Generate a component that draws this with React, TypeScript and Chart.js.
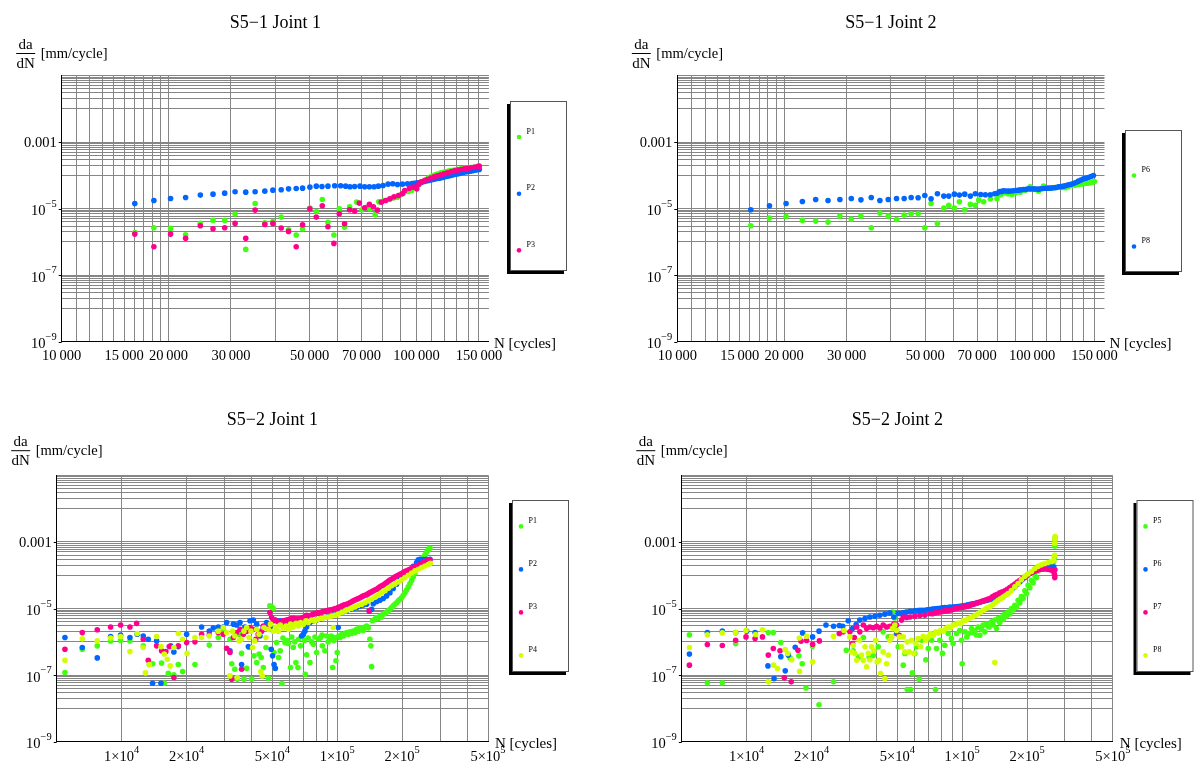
import { useEffect, useRef } from 'react';
import { Chart, registerables } from 'chart.js';

Chart.register(...registerables);

type Pt = [number, number];

const SERIF = '"Liberation Serif", "Times New Roman", Times, serif';
const GREEN = 'rgb(64,255,16)';
const BLUE = 'rgb(0,102,255)';
const PINK = 'rgb(255,0,140)';
const YELLOW = 'rgb(210,255,0)';
const GRID = '#868686';

// ---------- axis ticks / labels ----------
const cycleTicksS51 = [10000, 15000, 20000, 30000, 50000, 70000, 100000, 150000];
const cycleLabelsS51 = ['10\u2009000', '15\u2009000', '20\u2009000', '30\u2009000', '50\u2009000', '70\u2009000', '100\u2009000', '150\u2009000'];
const cycleTicksS52 = [1e4, 2e4, 5e4, 1e5, 2e5, 5e5];
const cycleLabelsS52: [string, string][] = [
  ['1\u00d710', '4'], ['2\u00d710', '4'], ['5\u00d710', '4'],
  ['1\u00d710', '5'], ['2\u00d710', '5'], ['5\u00d710', '5'],
];
const rateTicks = [1e-3, 1e-5, 1e-7, 1e-9];
const rateLabels: [string, string][] = [['0.001', ''], ['10', '\u22125'], ['10', '\u22127'], ['10', '\u22129']];

// ---------- grid lines ----------
const cycleGridS51 = [10000, 11000, 12000, 13000, 14000, 15000, 16000, 17000, 18000, 19000, 20000,
  30000, 40000, 50000, 60000, 70000, 80000, 90000, 100000, 110000, 120000, 130000, 140000, 150000];
const cycleGridS52 = [10000, 20000, 30000, 40000, 50000, 60000, 70000, 80000, 90000, 100000,
  200000, 300000, 400000, 500000];
const rateGridDecades = [-2, -4, -6, -8];
const rateGridSteps = [1, 2, 3, 4, 5, 6, 7, 8, 9, 10];
const rateGrid = rateGridDecades.flatMap((k) => rateGridSteps.map((m) => m * Math.pow(10, k)));

// ---------- S5-1 Joint 1 ----------
const s51j1P1: Pt[] = [[16070,1.93e-6],[18190,2.67e-6],[20270,2.55e-6],[22350,1.64e-6],[24590,3.6e-6],[26700,4.43e-6],[28800,4.43e-6],[30810,6.86e-6],[33020,5.97e-7],[35090,1.43e-5],[37370,3.77e-6],[39370,4.13e-6],[41560,5.57e-6],[43590,2.32e-6],[45810,1.61e-6],[47750,2.49e-6],[50070,1.04e-5],[52190,8.24e-6],[54260,1.89e-5],[56290,3.86e-6],[58520,1.61e-6],[60590,9.91e-6],[62720,2.79e-6],[64800,1.14e-5],[67800,1.58e-5],[70200,9.3e-6],[72300,1.1e-5],[74000,1.0e-5],[76500,6.6e-6],[78300,1.6e-5],[81000,1.75e-5],[83700,1.9e-5],[86000,2.1e-5],[88400,2.2e-5],[90200,2.6e-5],[91900,3.0e-5],[94800,3.3e-5],[97000,3.6e-5],[99500,4.3e-5],[102000,5.5e-5],[104000,6.5e-5],[106200,7.5e-5],[108000,8.3e-5],[109750,9.0e-5],[111500,9.8e-5],[113400,1.06e-4],[115300,1.12e-4],[117100,1.19e-4],[119000,1.24e-4],[121000,1.29e-4],[123000,1.34e-4],[125000,1.4e-4],[127800,1.45e-4],[130600,1.51e-4],[133500,1.57e-4],[136400,1.62e-4],[139300,1.67e-4],[142400,1.72e-4],[145600,1.78e-4],[148700,1.85e-4]];
const s51j1P2: Pt[] = [[16070,1.43e-5],[18190,1.76e-5],[20270,2.02e-5],[22350,2.17e-5],[24590,2.55e-5],[26700,2.73e-5],[28800,2.92e-5],[30810,3.21e-5],[33020,3.13e-5],[35090,3.21e-5],[37370,3.36e-5],[39370,3.6e-5],[41560,3.68e-5],[43590,3.94e-5],[45810,4.04e-5],[47750,4.13e-5],[50070,4.43e-5],[52190,4.74e-5],[54150,4.63e-5],[56290,4.74e-5],[58790,4.85e-5],[61130,4.85e-5],[63140,4.74e-5],[64950,4.53e-5],[66940,4.63e-5],[69310,4.74e-5],[71450,4.53e-5],[73660,4.53e-5],[75940,4.53e-5],[78100,4.74e-5],[80500,4.97e-5],[83170,5.45e-5],[85740,5.57e-5],[88380,5.32e-5],[91300,5.45e-5],[94330,5.57e-5],[97010,5.7e-5],[98500,5.8e-5],[100000,5.83e-5],[101200,6.0e-5],[102400,6.11e-5],[103700,6.3e-5],[105100,6.55e-5],[106600,6.8e-5],[108100,7.02e-5],[109500,7.3e-5],[111000,7.52e-5],[112500,7.8e-5],[114100,8.05e-5],[115600,8.2e-5],[117100,8.43e-5],[118600,8.7e-5],[120200,9.04e-5],[122000,9.4e-5],[123700,9.68e-5],[125300,1.0e-4],[126900,1.04e-4],[128700,1.08e-4],[130600,1.11e-4],[132300,1.15e-4],[134000,1.19e-4],[135900,1.23e-4],[137900,1.28e-4],[139800,1.31e-4],[141800,1.34e-4],[144000,1.38e-4],[146200,1.43e-4],[148200,1.47e-4],[150300,1.5e-4]];
const s51j1P3: Pt[] = [[16070,1.72e-6],[18190,7.18e-7],[20270,1.72e-6],[22350,1.28e-6],[24590,3.06e-6],[26700,2.49e-6],[28800,2.67e-6],[30810,3.6e-6],[33020,1.28e-6],[35090,9.04e-6],[37370,3.36e-6],[39370,3.6e-6],[41560,2.61e-6],[43590,2.07e-6],[45810,7.18e-7],[47750,3.28e-6],[50070,9.91e-6],[52190,5.57e-6],[54260,1.22e-5],[56290,2.86e-6],[58520,9.04e-7],[60590,7.02e-6],[62720,3.52e-6],[64800,9.25e-6],[66940,8.43e-6],[69010,1.47e-5],[71450,1.06e-5],[73660,1.34e-5],[75590,1.14e-5],[77590,9.04e-6],[79620,1.57e-5],[81900,1.76e-5],[84240,1.98e-5],[86470,2.27e-5],[88920,2.49e-5],[91300,2.79e-5],[92680,3.52e-5],[95550,4.13e-5],[98060,4.43e-5],[100200,3.94e-5],[101500,5.4e-5],[102850,6.25e-5],[105100,6.9e-5],[107400,7.52e-5],[109750,8.3e-5],[112170,9.04e-5],[114500,9.7e-5],[117100,1.04e-4],[119600,1.12e-4],[122300,1.19e-4],[125000,1.28e-4],[127800,1.37e-4],[130600,1.44e-4],[133500,1.5e-4],[136400,1.57e-4],[139300,1.64e-4],[142400,1.7e-4],[145600,1.76e-4],[148700,1.84e-4],[150300,1.89e-4]];

// ---------- S5-1 Joint 2 ----------
const s51j2P6: Pt[] = [[16110,3.06e-6],[18190,5.2e-6],[20260,5.83e-6],[22520,4.43e-6],[24550,4.23e-6],[26600,3.94e-6],[28730,5.97e-6],[30930,4.85e-6],[32930,5.97e-6],[35210,2.67e-6],[37240,7.35e-6],[39310,5.97e-6],[41490,4.74e-6],[43600,6.4e-6],[45620,7.02e-6],[47730,7.02e-6],[49850,2.67e-6],[51920,1.43e-5],[54100,3.6e-6],[56380,1.04e-5],[58230,1.25e-5],[60390,1.04e-5],[62390,1.61e-5],[64580,9.25e-6],[67000,1.34e-5],[69200,1.25e-5],[70720,1.8e-5],[73060,1.61e-5],[76260,1.98e-5],[79650,1.98e-5],[81500,2.6e-5],[83150,2.99e-5],[85500,2.8e-5],[87790,2.67e-5],[90000,3.0e-5],[92620,3.13e-5],[95500,3.6e-5],[98810,4.53e-5],[101500,3.8e-5],[104300,3.36e-5],[107700,4.74e-5],[110500,4.1e-5],[113700,4.23e-5],[116000,4.3e-5],[118700,4.43e-5],[121500,4.35e-5],[124000,4.23e-5],[126600,4.6e-5],[129400,4.97e-5],[132300,5.1e-5],[135100,5.32e-5],[138000,5.5e-5],[141100,5.7e-5],[143500,5.8e-5],[145800,5.97e-5],[147800,6.2e-5],[149900,6.55e-5]];
const s51j2P8: Pt[] = [[16110,9.25e-6],[18190,1.22e-5],[20260,1.43e-5],[22520,1.64e-5],[24550,1.89e-5],[26600,1.76e-5],[28730,1.89e-5],[30930,2.02e-5],[32930,1.84e-5],[35210,2.17e-5],[37240,1.76e-5],[39310,1.89e-5],[41490,2.02e-5],[43600,2.02e-5],[45620,2.17e-5],[47730,2.12e-5],[49850,2.49e-5],[51920,1.98e-5],[54100,2.79e-5],[56380,2.38e-5],[58230,2.38e-5],[60390,2.73e-5],[62390,2.55e-5],[64580,2.73e-5],[67000,2.38e-5],[69200,2.79e-5],[71640,2.67e-5],[73850,2.61e-5],[76260,2.61e-5],[78450,2.79e-5],[79700,2.9e-5],[81030,3.28e-5],[82100,3.3e-5],[83150,3.44e-5],[84500,3.4e-5],[85910,3.36e-5],[87300,3.4e-5],[88740,3.44e-5],[90100,3.5e-5],[91620,3.6e-5],[93100,3.7e-5],[94640,3.77e-5],[96200,3.8e-5],[97770,3.94e-5],[99300,3.9e-5],[101000,3.94e-5],[102600,3.9e-5],[104300,3.85e-5],[106000,3.95e-5],[107700,4.04e-5],[109500,4.1e-5],[111300,4.13e-5],[113100,4.15e-5],[115000,4.23e-5],[116800,4.3e-5],[118700,4.53e-5],[120600,4.6e-5],[122600,4.74e-5],[124600,4.95e-5],[126600,5.2e-5],[128700,5.4e-5],[130800,5.7e-5],[132900,6.1e-5],[135100,6.7e-5],[137300,7.2e-5],[139600,7.87e-5],[141900,8.2e-5],[144200,8.63e-5],[146500,9.2e-5],[148900,9.91e-5]];

// ---------- S5-2 Joint 1 ----------
const s52j1P1: Pt[] = [[5460,1.2e-7],[6570,6.0e-7],[7710,7.6e-7],[8890,1.07e-6],[9890,1.1e-6],[10930,1.07e-6],[11820,1.7e-6],[12600,7.6e-7],[13440,2.1e-7],[13920,2.2e-7],[15320,2.3e-7],[15770,5.8e-8],[16460,1.13e-7],[17470,1.02e-7],[18320,2.1e-7],[19180,1.28e-7],[21880,2.1e-7],[25500,8.0e-7],[28070,1.35e-6],[29600,2.1e-6],[31800,1.2e-6],[32400,2.2e-7],[33500,1.5e-7],[34400,7.6e-8],[35100,1.7e-6],[36000,4.5e-7],[36900,7.6e-8],[38000,1.6e-7],[39100,6.8e-7],[40100,7.6e-8],[41100,3.8e-7],[42300,2.4e-7],[43400,4.3e-7],[44400,3.4e-7],[45400,1.7e-7],[46700,6.8e-7],[47900,8.1e-8],[48700,1.2e-5],[49600,1.12e-5],[50500,1.02e-5],[50900,4.8e-7],[52300,9.5e-7],[53400,3.4e-7],[54400,5.4e-7],[55400,5.6e-8],[56000,1.3e-6],[57200,9.5e-7],[58500,1.1e-6],[59300,8.9e-7],[60700,1.7e-7],[61500,1.4e-6],[62500,6.8e-7],[63500,1.0e-6],[64300,2.4e-7],[65700,1.7e-7],[66200,1.2e-6],[67600,7.6e-7],[69000,1.5e-6],[70500,1.1e-6],[71100,1.07e-7],[72100,4.1e-7],[73300,1.3e-6],[74700,2.4e-7],[76000,1.0e-6],[77400,8.5e-7],[78800,1.4e-6],[80200,4.8e-7],[81900,1.2e-6],[83700,1.35e-6],[85000,1.6e-6],[85200,7.6e-7],[87600,5.4e-7],[89200,1.5e-6],[90800,1.0e-6],[92500,1.2e-6],[93800,1.5e-6],[95100,1.7e-7],[96500,1.1e-6],[97500,1.35e-6],[98600,2.7e-7],[100000,4.8e-7],[101600,1.5e-6],[103000,1.35e-6],[105000,1.7e-6],[107000,1.5e-6],[109000,1.78e-6],[110500,1.9e-6],[112500,1.7e-6],[114500,2.0e-6],[116500,1.78e-6],[118600,2.1e-6],[120800,1.9e-6],[122900,2.4e-6],[125100,2.1e-6],[127400,2.7e-6],[129700,2.4e-6],[132000,2.2e-6],[134400,2.8e-6],[136800,3.0e-6],[139200,2.6e-6],[141700,1.2e-6],[143200,7.6e-7],[144300,1.8e-7],[145700,4.3e-6],[149500,4.8e-6],[152200,5.4e-6],[154900,5.0e-6],[157700,6.0e-6],[160500,5.6e-6],[163400,6.8e-6],[166300,7.2e-6],[169300,7.8e-6],[172400,8.5e-6],[175500,9.5e-6],[178600,1.07e-5],[181800,1.2e-5],[185100,1.35e-5],[188400,1.5e-5],[191800,1.7e-5],[195300,1.9e-5],[198800,2.1e-5],[202300,2.5e-5],[206000,3.0e-5],[209700,3.6e-5],[213400,4.5e-5],[217300,5.6e-5],[221200,7.0e-5],[225100,9.0e-5],[229200,1.15e-4],[233300,1.5e-4],[237500,1.9e-4],[241700,2.4e-4],[246100,2.9e-4],[250500,3.4e-4],[255000,4.1e-4],[259500,4.9e-4],[264200,5.7e-4],[269000,6.6e-4]];
const s52j1P2: Pt[] = [[5460,1.35e-6],[6570,6.8e-7],[7710,3.3e-7],[8890,1.45e-6],[9890,1.6e-6],[10930,1.35e-6],[11820,1.7e-6],[12600,1.5e-6],[13290,1.2e-6],[13920,5.7e-8],[14530,1.07e-6],[15220,5.7e-8],[16880,7.6e-7],[17470,5.0e-7],[18320,7.2e-7],[20020,1.7e-6],[23490,2.8e-6],[25500,2.1e-6],[26610,2.6e-6],[28070,2.8e-6],[29600,2.8e-6],[30700,3.8e-6],[31800,5.4e-7],[33000,3.4e-6],[34100,3.2e-6],[35400,3.8e-6],[36000,2.1e-7],[37300,2.8e-6],[38700,7.2e-7],[39400,4.3e-6],[40800,4.5e-6],[42300,3.4e-6],[43800,1.5e-6],[45400,2.7e-6],[47000,3.8e-6],[48700,2.6e-6],[49400,6.0e-7],[50100,3.8e-7],[50900,2.1e-7],[51600,1.6e-7],[52700,4.3e-6],[54200,4.3e-6],[56200,3.6e-6],[58200,4.3e-6],[60300,3.4e-6],[62500,4.1e-6],[64800,4.3e-6],[67100,3.8e-6],[68300,1.5e-6],[69600,1.7e-6],[70800,2.1e-6],[72100,2.8e-6],[74700,3.8e-6],[77400,4.3e-6],[80200,4.5e-6],[83100,4.8e-6],[86100,5.4e-6],[89200,5.6e-6],[92500,6.0e-6],[95800,6.5e-6],[99300,6.8e-6],[101000,2.7e-6],[103000,7.6e-6],[107000,8.1e-6],[110500,8.5e-6],[114500,9.5e-6],[118600,1.02e-5],[122900,1.07e-5],[127400,1.2e-5],[132000,1.28e-5],[136800,1.35e-5],[140700,8.5e-6],[144300,9.5e-6],[146900,1.4e-5],[152200,1.6e-5],[157700,1.78e-5],[163400,2.0e-5],[169300,2.4e-5],[175500,3.0e-5],[181800,4.0e-5],[188400,5.4e-5],[195300,7.2e-5],[202300,9.0e-5],[209700,1.15e-4],[217300,1.45e-4],[225100,1.85e-4],[233300,2.4e-4],[237500,2.9e-4],[241700,3.0e-4],[250500,2.95e-4],[259500,3.0e-4],[269000,3.0e-4]];
const s52j1P3: Pt[] = [[5460,6.0e-7],[6570,1.9e-6],[7710,2.3e-6],[8890,2.8e-6],[9890,3.2e-6],[10930,2.8e-6],[11740,3.6e-6],[12600,1.2e-6],[13290,2.8e-7],[14530,7.6e-7],[15320,5.4e-7],[16030,5.1e-7],[16630,7.2e-7],[17470,8.5e-8],[18320,7.6e-7],[20020,9.5e-7],[21880,1.0e-6],[23490,1.7e-6],[25500,1.6e-6],[28070,1.9e-6],[29600,1.7e-6],[30700,6.4e-7],[31800,4.8e-7],[32400,7.6e-8],[33000,1.35e-6],[34100,1.9e-6],[35400,2.4e-6],[36000,1.5e-7],[36700,1.7e-6],[38000,2.1e-6],[39400,2.7e-6],[40800,2.4e-6],[41900,1.2e-6],[43000,1.7e-6],[44600,2.1e-6],[45400,3.0e-6],[47000,2.7e-6],[48700,7.6e-6],[49600,5.4e-6],[50500,4.3e-6],[51400,4.6e-6],[52300,4.3e-6],[53300,4.0e-6],[54200,3.8e-6],[55200,4.1e-6],[56200,4.3e-6],[57200,4.4e-6],[58200,4.5e-6],[59300,4.6e-6],[60300,4.8e-6],[61400,5.0e-6],[62500,5.1e-6],[63600,4.9e-6],[64800,4.8e-6],[65900,4.9e-6],[67100,4.8e-6],[68300,5.1e-6],[69600,5.4e-6],[70800,5.8e-6],[72100,6.3e-6],[73400,6.1e-6],[74700,6.0e-6],[76000,6.4e-6],[77400,6.8e-6],[78800,7.0e-6],[80200,7.2e-6],[81600,7.4e-6],[83100,7.6e-6],[84600,7.8e-6],[86100,8.1e-6],[87600,8.3e-6],[89200,8.5e-6],[90800,8.8e-6],[92500,9.0e-6],[94100,9.2e-6],[95800,9.5e-6],[97500,9.8e-6],[99300,1.02e-5],[101000,1.07e-5],[103000,1.12e-5],[105000,1.2e-5],[107000,1.28e-5],[108700,1.3e-5],[110500,1.35e-5],[112500,1.42e-5],[114500,1.5e-5],[116500,1.6e-5],[118600,1.7e-5],[120800,1.8e-5],[122900,1.9e-5],[125100,2.0e-5],[127400,2.1e-5],[129700,2.25e-5],[132000,2.4e-5],[134400,2.5e-5],[136800,2.6e-5],[139200,2.8e-5],[140700,8.5e-6],[141700,3.0e-5],[144300,3.2e-5],[146900,3.4e-5],[149500,3.6e-5],[152200,3.8e-5],[154900,4.1e-5],[157700,4.5e-5],[160500,4.8e-5],[163400,5.1e-5],[166300,5.5e-5],[169300,6.0e-5],[172400,6.6e-5],[175500,7.2e-5],[178600,7.6e-5],[181800,8.1e-5],[185100,8.8e-5],[188400,9.5e-5],[191800,1.0e-4],[195300,1.07e-4],[198800,1.13e-4],[202300,1.2e-4],[206000,1.28e-4],[209700,1.35e-4],[213400,1.42e-4],[217300,1.5e-4],[221200,1.6e-4],[225100,1.7e-4],[229200,1.8e-4],[233300,1.9e-4],[237500,2.0e-4],[241700,2.1e-4],[246100,2.25e-4],[250500,2.4e-4],[255000,2.55e-4],[259500,2.7e-4],[264200,2.8e-4],[269000,2.9e-4]];
const s52j1P4: Pt[] = [[5460,2.8e-7],[6570,1.23e-6],[7710,1.07e-6],[8890,1.3e-6],[9890,1.45e-6],[10930,5.1e-7],[11820,1.78e-6],[12600,6.8e-7],[12900,1.17e-7],[13440,2.1e-7],[14530,1.45e-6],[15220,7.2e-7],[15770,4.3e-7],[16290,3.0e-7],[16800,1.9e-7],[17470,6.8e-7],[18320,1.78e-6],[19180,1.2e-6],[20130,4.5e-7],[21880,1.35e-6],[23490,1.35e-6],[25500,1.5e-6],[28070,2.1e-6],[29600,2.7e-6],[30700,1.9e-6],[31800,9.5e-8],[32700,2.1e-6],[33500,1.5e-6],[34400,8.5e-8],[35100,1.07e-6],[36000,1.2e-6],[36900,2.1e-6],[38000,2.7e-6],[39000,1.35e-6],[39800,2.1e-6],[40500,6.8e-7],[41400,1.07e-6],[42300,2.4e-6],[43400,1.7e-6],[44200,1.28e-7],[44900,9.5e-8],[45700,2.7e-6],[46700,1.35e-6],[47900,2.4e-6],[49000,3.4e-6],[50500,2.1e-6],[51900,2.8e-6],[53300,2.1e-6],[54400,3.2e-6],[56200,2.6e-6],[57800,3.0e-6],[59300,2.4e-6],[60700,3.4e-6],[62500,2.8e-6],[64300,3.6e-6],[65900,3.0e-6],[67600,3.8e-6],[69600,3.4e-6],[71600,4.3e-6],[73400,3.8e-6],[76000,4.5e-6],[78800,4.3e-6],[81600,4.8e-6],[84600,5.1e-6],[87600,5.4e-6],[90800,5.6e-6],[94100,6.0e-6],[95800,2.7e-6],[97500,6.3e-6],[101000,6.8e-6],[105000,7.6e-6],[109000,8.5e-6],[112500,9.3e-6],[116500,1.02e-5],[120800,1.12e-5],[125100,1.25e-5],[129700,1.35e-5],[134400,1.5e-5],[139200,1.7e-5],[144300,1.9e-5],[149500,2.2e-5],[154900,2.6e-5],[160500,3.0e-5],[166300,3.5e-5],[172400,4.1e-5],[178600,4.8e-5],[185100,5.5e-5],[191800,6.3e-5],[198800,7.3e-5],[206000,8.5e-5],[213400,1.0e-4],[221200,1.17e-4],[229200,1.35e-4],[237500,1.5e-4],[246100,1.7e-4],[255000,1.9e-4],[264200,2.1e-4],[270000,2.3e-4]];

// ---------- S5-2 Joint 2 ----------
const s52j2P5: Pt[] = [[5424,1.62e-6],[6570,5.9e-8],[7710,5.9e-8],[8890,8.9e-7],[12600,1.9e-6],[13290,1.9e-6],[14400,9.5e-7],[15900,3.3e-7],[17470,3.8e-7],[18100,2.2e-7],[18850,4.1e-8],[20230,7.4e-7],[21660,1.3e-8],[25300,6.3e-8],[29000,5.6e-7],[31200,5.4e-7],[33000,3.5e-7],[34800,1.35e-6],[37000,3.5e-7],[38700,3.9e-7],[40800,7.1e-7],[43000,2.0e-6],[45400,1.41e-6],[47500,7.9e-6],[48700,5.2e-6],[49600,2.2e-6],[50500,7.1e-7],[53300,2.0e-7],[54200,4.5e-7],[55600,3.7e-8],[57600,3.7e-8],[58700,1.17e-7],[60300,4.5e-7],[61400,7.1e-7],[63200,7.6e-8],[64800,1.12e-6],[67800,2.9e-7],[69600,6.3e-7],[72100,1.12e-6],[75200,3.7e-8],[76000,6.3e-7],[78800,1.12e-6],[81000,4.5e-7],[83100,7.9e-7],[86100,1.78e-6],[89200,1.26e-6],[90800,8.9e-7],[94100,1.78e-6],[97500,2.2e-6],[99300,1.12e-6],[100000,2.2e-7],[103000,2.0e-6],[105000,1.4e-6],[107000,1.78e-6],[110500,2.5e-6],[112000,1.9e-6],[114500,2.2e-6],[116500,1.6e-6],[118600,2.8e-6],[120800,1.58e-6],[122900,2.4e-6],[125100,3.2e-6],[127400,2.0e-6],[129700,3.5e-6],[131500,3.0e-6],[133400,2.8e-6],[136800,4.0e-6],[139200,3.2e-6],[141700,4.5e-6],[144300,2.5e-6],[146900,5.0e-6],[149500,3.8e-6],[152200,5.6e-6],[155000,4.8e-6],[157700,6.8e-6],[160500,6.0e-6],[163400,7.9e-6],[166300,7.0e-6],[169300,1.0e-5],[172400,9.0e-6],[175500,1.26e-5],[178600,1.1e-5],[181800,1.78e-5],[185100,1.5e-5],[188400,2.3e-5],[191800,2.0e-5],[195300,3.4e-5],[198800,2.8e-5],[202300,5.0e-5],[206000,4.2e-5],[209700,7.1e-5],[213400,6.0e-5],[217300,1.0e-4],[221200,8.5e-5],[225100,1.35e-4],[229200,1.55e-4],[233300,1.78e-4],[237500,1.95e-4],[241700,2.1e-4],[246100,2.2e-4],[250500,2.3e-4],[255000,2.4e-4],[259500,2.5e-4],[264200,2.55e-4],[266000,2.6e-4],[268500,3.6e-4],[269000,7.6e-4],[269500,1.1e-3],[270000,1.35e-3]];
const s52j2P6: Pt[] = [[5424,4.3e-7],[6570,1.9e-6],[7710,2.1e-6],[8890,1.9e-6],[10000,2.1e-6],[10940,1.9e-6],[12550,1.9e-7],[13400,7.9e-8],[14400,3.6e-7],[15100,1.35e-7],[15600,4.0e-7],[16800,6.9e-7],[18180,1.86e-6],[20230,1.41e-6],[21660,2.1e-6],[23330,3.2e-6],[25300,2.95e-6],[26900,3.1e-6],[27900,2.95e-6],[29600,4.3e-6],[31000,2.5e-6],[32200,3.3e-6],[33500,4.5e-6],[35400,5.0e-6],[37300,5.6e-6],[39400,5.9e-6],[41500,6.3e-6],[43800,6.8e-6],[46200,7.4e-6],[48200,5.6e-6],[49600,1.78e-6],[50400,7.2e-6],[51400,7.1e-6],[53300,7.4e-6],[54200,7.6e-6],[55200,7.9e-6],[57200,8.3e-6],[58200,8.1e-6],[60300,8.5e-6],[61900,8.7e-6],[63600,8.9e-6],[65300,8.9e-6],[67100,8.9e-6],[68900,9.1e-6],[70800,9.3e-6],[72700,9.6e-6],[74700,9.8e-6],[76700,1.0e-5],[78800,1.02e-5],[80900,1.05e-5],[83100,1.07e-5],[85300,1.08e-5],[87600,1.1e-5],[90000,1.11e-5],[92500,1.12e-5],[95000,1.15e-5],[97500,1.17e-5],[100200,1.2e-5],[103000,1.23e-5],[106000,1.3e-5],[109000,1.35e-5],[111700,1.38e-5],[114500,1.41e-5],[117600,1.48e-5],[120800,1.55e-5],[124100,1.62e-5],[127400,1.7e-5],[130900,1.78e-5],[134400,1.86e-5],[138000,1.98e-5],[141700,2.1e-5],[145600,2.3e-5],[149500,2.45e-5],[153600,2.6e-5],[157700,2.8e-5],[162000,3.1e-5],[166300,3.4e-5],[170800,3.9e-5],[175500,4.5e-5],[180200,5.4e-5],[185100,6.3e-5],[190100,7.4e-5],[195300,8.5e-5],[200600,9.8e-5],[206000,1.12e-4],[211600,1.24e-4],[217300,1.35e-4],[223200,1.48e-4],[229200,1.58e-4],[235400,1.68e-4],[241700,1.78e-4],[248300,1.82e-4],[255000,1.86e-4],[266000,1.78e-4]];
const s52j2P7: Pt[] = [[5424,2.0e-7],[6570,8.3e-7],[7710,7.8e-7],[8890,1.12e-6],[9930,1.41e-6],[10940,1.26e-6],[11840,1.41e-6],[12600,4.0e-7],[13290,6.3e-7],[14280,5.4e-7],[14950,8.3e-8],[16100,6.3e-8],[17300,5.6e-7],[17870,1.05e-6],[18970,1.1e-6],[20230,8.5e-7],[21740,1.07e-6],[26900,1.78e-6],[28070,2.0e-6],[30140,2.0e-6],[31000,8.9e-7],[31600,1.35e-6],[32400,2.8e-6],[33500,2.0e-6],[34800,3.2e-6],[36000,2.5e-6],[37300,2.8e-6],[38700,2.65e-6],[40100,2.95e-6],[41500,2.6e-6],[43000,3.2e-6],[44600,2.8e-6],[46200,2.95e-6],[47000,1.41e-6],[48200,3.4e-6],[49600,3.2e-6],[51000,1.58e-6],[52300,4.5e-6],[53300,5.6e-6],[55200,5.4e-6],[57200,5.6e-6],[60300,5.9e-6],[63600,6.2e-6],[67100,6.3e-6],[70800,7.1e-6],[72700,7.0e-6],[74700,7.4e-6],[76700,7.7e-6],[78800,7.9e-6],[80900,8.2e-6],[83100,8.5e-6],[85300,8.6e-6],[87600,8.9e-6],[90000,9.3e-6],[92500,9.8e-6],[95000,1.02e-5],[97500,1.07e-5],[100200,1.1e-5],[103000,1.12e-5],[106000,1.18e-5],[109000,1.26e-5],[111700,1.33e-5],[114500,1.41e-5],[117600,1.5e-5],[120800,1.58e-5],[124100,1.68e-5],[127400,1.78e-5],[130900,1.88e-5],[134400,2.0e-5],[138000,2.25e-5],[141700,2.5e-5],[145600,2.7e-5],[149500,2.95e-5],[153600,3.2e-5],[157700,3.4e-5],[162000,3.8e-5],[166300,4.3e-5],[170800,4.8e-5],[175500,5.4e-5],[180200,6.2e-5],[185100,7.1e-5],[190100,8.0e-5],[195300,8.9e-5],[200600,1.0e-4],[206000,1.12e-4],[211600,1.25e-4],[217300,1.35e-4],[223200,1.42e-4],[229200,1.48e-4],[235400,1.52e-4],[241700,1.55e-4],[248300,1.52e-4],[255000,1.48e-4],[260000,1.42e-4],[264200,1.35e-4],[268000,1.07e-4],[269000,8.5e-5],[269500,1.45e-4]];
const s52j2P8: Pt[] = [[5424,6.8e-7],[6570,1.62e-6],[7710,1.86e-6],[8890,1.9e-6],[9930,2.2e-6],[11000,1.66e-6],[11840,2.3e-6],[12600,6.3e-8],[13340,2.0e-7],[13900,1.58e-7],[15100,5.9e-7],[15500,4.5e-7],[16200,2.9e-7],[17550,1.3e-6],[17600,1.3e-7],[18970,1.48e-6],[20230,2.5e-7],[25300,1.48e-6],[28300,2.2e-6],[30100,1.41e-6],[30700,5.0e-7],[31200,7.9e-7],[31800,4.5e-7],[32400,2.8e-7],[33300,1.12e-6],[34100,4.0e-7],[34800,2.8e-7],[35400,7.1e-7],[36000,1.78e-7],[36700,4.5e-7],[37300,2.9e-7],[38000,7.1e-7],[38900,5.4e-7],[39700,1.12e-6],[40300,2.5e-7],[41100,2.8e-7],[41800,1.12e-7],[43000,5.0e-7],[43800,7.9e-8],[44600,2.2e-7],[45400,4.0e-7],[46200,1.12e-6],[47000,1.41e-6],[47500,2.5e-6],[48700,3.2e-6],[49600,2.2e-6],[51100,1.41e-6],[52300,7.1e-7],[53300,1.41e-6],[54200,5.0e-7],[55600,1.0e-6],[56800,5.0e-7],[58200,1.12e-6],[59700,4.5e-7],[61000,8.9e-7],[62500,1.26e-6],[64100,7.1e-7],[65900,1.48e-6],[67800,1.12e-6],[69600,1.41e-6],[71300,1.78e-6],[73400,1.58e-6],[75500,2.0e-6],[77400,1.86e-6],[79300,2.2e-6],[81600,2.1e-6],[84000,2.5e-6],[86100,2.8e-6],[88200,2.65e-6],[90800,3.2e-6],[93100,3.4e-6],[95800,3.7e-6],[98200,3.5e-6],[101000,4.3e-6],[104200,4.5e-6],[107000,5.0e-6],[110000,5.4e-6],[112500,5.9e-6],[115700,6.3e-6],[118600,7.1e-6],[121600,7.8e-6],[125100,8.9e-6],[128800,1.0e-5],[132000,1.07e-5],[135300,1.17e-5],[139200,1.35e-5],[141700,2.4e-7],[143200,1.58e-5],[146900,1.78e-5],[150600,1.95e-5],[154900,2.2e-5],[159400,2.5e-5],[163400,2.8e-5],[169300,3.5e-5],[175500,4.5e-5],[181800,5.6e-5],[188400,7.4e-5],[195300,9.3e-5],[202300,1.1e-4],[209700,1.3e-4],[217300,1.6e-4],[225100,1.85e-4],[233300,2.05e-4],[241700,2.25e-4],[250500,2.4e-4],[259500,2.6e-4],[266000,2.8e-4],[268500,4.0e-4],[269000,9.0e-4],[269500,1.2e-3],[270000,1.45e-3]];

// ---------- panel layout ----------
interface SeriesDef { label: string; color: string; data: Pt[] }
interface PanelDef {
  title: string;
  series: SeriesDef[];
  box: { x: number; y: number; w: number; h: number };
  pad: { left: number; right: number; top: number; bottom: number };
  xMin: number; xMax: number; xGrid: number[];
  s52: boolean;
  titleY: number; barY: number;
  legend: { x: number; y: number; w: number; h: number; shift: number };
}

const panels: PanelDef[] = [
  {
    title: 'S5\u22121 Joint 1',
    series: [
      { label: 'P1', color: GREEN, data: s51j1P1 },
      { label: 'P2', color: BLUE, data: s51j1P2 },
      { label: 'P3', color: PINK, data: s51j1P3 },
    ],
    box: { x: 0, y: 0, w: 600, h: 382 },
    pad: { left: 61.7, right: 111.1, top: 75.5, bottom: 40.2 },
    xMin: 10000, xMax: 160000, xGrid: cycleGridS51, s52: false,
    titleY: 21.8, barY: 53,
    legend: { x: 510, y: 101, w: 57, h: 170, shift: 7.7 },
  },
  {
    title: 'S5\u22121 Joint 2',
    series: [
      { label: 'P6', color: GREEN, data: s51j2P6 },
      { label: 'P8', color: BLUE, data: s51j2P8 },
    ],
    box: { x: 600, y: 0, w: 603, h: 382 },
    pad: { left: 77.3, right: 98.5, top: 75.5, bottom: 40.2 },
    xMin: 10000, xMax: 160000, xGrid: cycleGridS51, s52: false,
    titleY: 21.8, barY: 53,
    legend: { x: 525, y: 130, w: 57, h: 142, shift: 10 },
  },
  {
    title: 'S5\u22122 Joint 1',
    series: [
      { label: 'P1', color: GREEN, data: s52j1P1 },
      { label: 'P2', color: BLUE, data: s52j1P2 },
      { label: 'P3', color: PINK, data: s52j1P3 },
      { label: 'P4', color: YELLOW, data: s52j1P4 },
    ],
    box: { x: 0, y: 382, w: 600, h: 382 },
    pad: { left: 56.7, right: 112, top: 93.3, bottom: 22.2 },
    xMin: 5000, xMax: 500000, xGrid: cycleGridS52, s52: true,
    titleY: 36.7, barY: 68.2,
    legend: { x: 512, y: 118, w: 57, h: 172, shift: 4.9 },
  },
  {
    title: 'S5\u22122 Joint 2',
    series: [
      { label: 'P5', color: GREEN, data: s52j2P5 },
      { label: 'P6', color: BLUE, data: s52j2P6 },
      { label: 'P7', color: PINK, data: s52j2P7 },
      { label: 'P8', color: YELLOW, data: s52j2P8 },
    ],
    box: { x: 600, y: 382, w: 603, h: 382 },
    pad: { left: 81.8, right: 90.2, top: 93.3, bottom: 22.2 },
    xMin: 5000, xMax: 500000, xGrid: cycleGridS52, s52: true,
    titleY: 36.7, barY: 68.2,
    legend: { x: 536.5, y: 118, w: 57, h: 172, shift: 4.9 },
  },
];

// text with an optional superscript; anchored right or centred at x, vertically centred at y
function supText(ctx: CanvasRenderingContext2D, base: string, sup: string, x: number, y: number, align: 'right' | 'center', size: number) {
  const supSize = size * 0.72;
  ctx.font = `${size}px ${SERIF}`;
  const wb = ctx.measureText(base).width;
  ctx.font = `${supSize}px ${SERIF}`;
  const ws = sup ? ctx.measureText(sup).width : 0;
  const total = wb + ws;
  const x0 = align === 'right' ? x - total : x - total / 2;
  const baseLine = y + size * 0.33 + (sup ? 1.8 : 0);
  ctx.textAlign = 'left';
  ctx.textBaseline = 'alphabetic';
  ctx.font = `${size}px ${SERIF}`;
  ctx.fillText(base, x0, baseLine);
  if (sup) {
    ctx.font = `${supSize}px ${SERIF}`;
    ctx.fillText(sup, x0 + wb, baseLine - size * 0.58);
  }
}

const decor = {
  id: 'decor',
  afterDraw(chart: any, _args: any, opts: any) {
    const def: PanelDef = opts.def;
    const { ctx, chartArea: a, scales } = chart;
    const xs = scales.x;
    const ys = scales.y;
    ctx.save();
    ctx.fillStyle = '#000';

    // title
    ctx.font = `18px ${SERIF}`;
    ctx.textAlign = 'center';
    ctx.textBaseline = 'alphabetic';
    ctx.fillText(def.title, (a.left + a.right) / 2, def.titleY + 6);

    // da/dN [mm/cycle]
    const fx = a.left - 36;
    ctx.font = `15px ${SERIF}`;
    ctx.fillText('da', fx, def.barY - 4);
    ctx.fillText('dN', fx, def.barY + 15);
    ctx.strokeStyle = '#000';
    ctx.lineWidth = 1;
    ctx.beginPath();
    ctx.moveTo(fx - 9.5, def.barY + 0.5);
    ctx.lineTo(fx + 9.5, def.barY + 0.5);
    ctx.stroke();
    ctx.textAlign = 'left';
    ctx.font = `14.5px ${SERIF}`;
    ctx.fillText('[mm/cycle]', a.left - 21, def.barY + 5);

    // rate tick labels and marks
    rateTicks.forEach((v, i) => {
      const y = ys.getPixelForValue(v);
      const [base, sup] = rateLabels[i];
      supText(ctx, base, sup, a.left - 5, y, 'right', 14.5);
      ctx.beginPath();
      ctx.moveTo(a.left - 3, Math.round(y) + 0.5);
      ctx.lineTo(a.left, Math.round(y) + 0.5);
      ctx.stroke();
    });

    // cycle tick labels
    const ly = a.bottom + 13;
    if (def.s52) {
      cycleTicksS52.forEach((v, i) => {
        const [base, sup] = cycleLabelsS52[i];
        supText(ctx, base, sup, xs.getPixelForValue(v), ly, 'center', 14.5);
      });
    } else {
      cycleTicksS51.forEach((v, i) => {
        supText(ctx, cycleLabelsS51[i], '', xs.getPixelForValue(v), ly, 'center', 14.5);
      });
    }
    ctx.font = `15px ${SERIF}`;
    ctx.textAlign = 'left';
    ctx.fillText('N [cycles]', a.right + (def.s52 ? 7 : 5), a.bottom + 6.5);

    // legend box with drop shadow
    const L = def.legend;
    ctx.fillStyle = '#000';
    ctx.fillRect(L.x - 3, L.y + 3, L.w, L.h);
    ctx.fillStyle = '#fff';
    ctx.fillRect(L.x, L.y, L.w, L.h);
    ctx.strokeStyle = '#555';
    ctx.strokeRect(L.x + 0.5, L.y + 0.5, L.w - 1, L.h - 1);
    const ds = chart.data.datasets;
    ds.forEach((d: any, i: number) => {
      const cy = L.y + (L.h * (i + 0.5)) / ds.length + L.shift;
      const cx = L.x + 9;
      ctx.fillStyle = d.backgroundColor;
      ctx.beginPath();
      ctx.arc(cx, cy, 2.3, 0, Math.PI * 2);
      ctx.fill();
      ctx.fillStyle = '#000';
      ctx.font = `8px ${SERIF}`;
      ctx.textAlign = 'left';
      ctx.fillText(d.label, cx + 7.5, cy - 3.5);
    });
    ctx.restore();
  },
};

function buildConfig(def: PanelDef): any {
  const n = def.series.length;
  return {
    type: 'scatter',
    data: {
      datasets: def.series.map((s, i) => ({
        label: s.label,
        data: s.data.map(([x, y]) => ({ x, y })),
        backgroundColor: s.color,
        borderColor: s.color,
        borderWidth: 0,
        pointRadius: 2.8,
        pointHoverRadius: 2.8,
        order: n - i,
      })),
    },
    options: {
      animation: false,
      responsive: false,
      events: [],
      layout: { padding: def.pad },
      plugins: {
        legend: { display: false },
        tooltip: { enabled: false },
        decor: { def },
      },
      scales: {
        x: {
          type: 'logarithmic',
          min: def.xMin,
          max: def.xMax,
          afterBuildTicks: (s: any) => { s.ticks = def.xGrid.map((v) => ({ value: v })); },
          afterFit: (s: any) => { s.height = 0; },
          ticks: { display: false, autoSkip: false },
          grid: { color: GRID, lineWidth: 1, drawTicks: false },
          border: { display: true, color: '#000', width: 1 },
        },
        y: {
          type: 'logarithmic',
          min: 1e-9,
          max: 1e-1,
          afterBuildTicks: (s: any) => { s.ticks = rateGrid.map((v) => ({ value: v })); },
          afterFit: (s: any) => { s.width = 0; },
          ticks: { display: false, autoSkip: false },
          grid: { color: GRID, lineWidth: 1, drawTicks: false },
          border: { display: true, color: '#000', width: 1 },
        },
      },
    },
    plugins: [decor],
  };
}

function Panel({ def }: { def: PanelDef }) {
  const ref = useRef<HTMLCanvasElement>(null);
  useEffect(() => {
    const chart = new Chart(ref.current as HTMLCanvasElement, buildConfig(def));
    return () => chart.destroy();
  }, [def]);
  return (
    <canvas
      ref={ref}
      width={def.box.w}
      height={def.box.h}
      style={{ position: 'absolute', left: def.box.x, top: def.box.y, width: def.box.w, height: def.box.h }}
    />
  );
}

export default function App() {
  return (
    <div style={{ position: 'fixed', left: 0, top: 0, width: 1203, height: 764, background: '#fff', overflow: 'hidden' }}>
      {panels.map((p) => (
        <Panel key={p.title} def={p} />
      ))}
    </div>
  );
}
